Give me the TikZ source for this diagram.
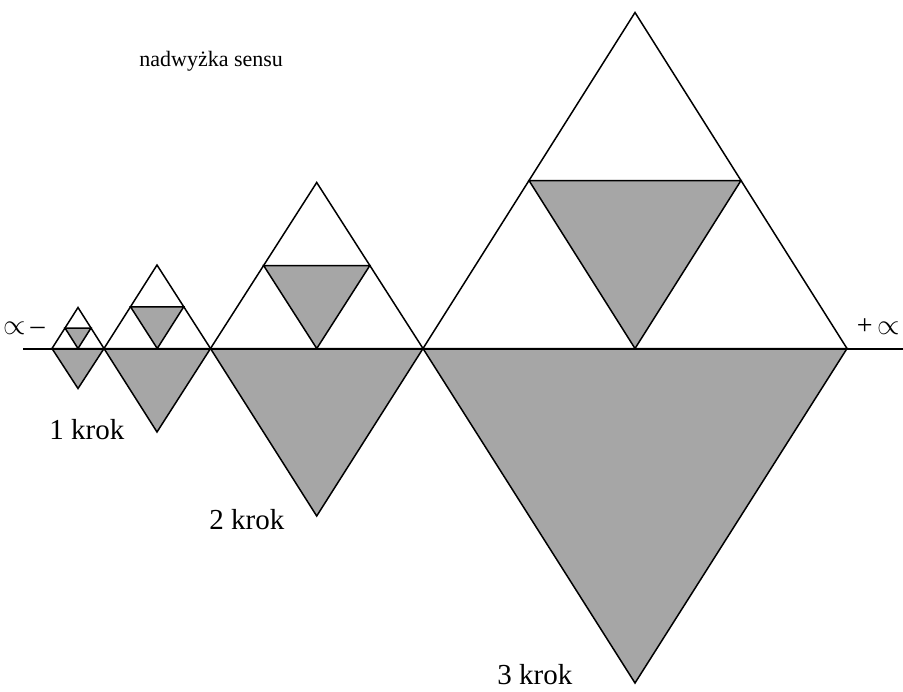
\documentclass[tikz,border=0pt]{standalone}
\usepackage{fontspec}
\setmainfont{Liberation Serif}
\usepackage{tikz}
\usetikzlibrary{calc}
\definecolor{StepGray}{HTML}{A6A6A6}

\begin{document}
\begin{tikzpicture}[
  x=0.5pt,
  y=-0.5pt,
  edge/.style={
    draw=black,
    line width=0.75pt,
    line join=miter
  },
  shaded/.style={
    edge,
    fill=StepGray
  },
  axis/.style={line width=1pt},
  steplabel/.style={
    anchor=base west,
    inner sep=0pt,
    font=\fontsize{14.5}{17}\selectfont
  },
  sign/.style={
    inner sep=0pt,
    font=\fontsize{14}{16}\selectfont
  },
]
\useasboundingbox (0,0) rectangle (903,691);

\coordinate (s1-l) at (52,348.5);
\coordinate (s1-r) at (104,348.5);
\coordinate (s1-t) at (78,307.5);
\coordinate (s1-b) at (78,388.5);

\coordinate (s2-l) at (104,348.5);
\coordinate (s2-r) at (210.5,348.5);
\coordinate (s2-t) at (157,265);
\coordinate (s2-b) at (157,432);

\coordinate (s3-l) at (210.5,348.5);
\coordinate (s3-r) at (423,348.5);
\coordinate (s3-t) at (316.7,182.5);
\coordinate (s3-b) at (316.7,516);

\coordinate (s4-l) at (423,348.5);
\coordinate (s4-r) at (847,348.5);
\coordinate (s4-t) at (635,12.5);
\coordinate (s4-b) at (635,683);

\draw[shaded] (s1-l) -- (s1-b) -- (s1-r) -- cycle;
\draw[edge] (s1-l) -- (s1-t) -- (s1-r);
\draw[shaded] ($(s1-l)!0.5!(s1-t)$) -- ($(s1-r)!0.5!(s1-t)$) -- ($(s1-l)!0.5!(s1-r)$) -- cycle;

\draw[shaded] (s2-l) -- (s2-b) -- (s2-r) -- cycle;
\draw[edge] (s2-l) -- (s2-t) -- (s2-r);
\draw[shaded] ($(s2-l)!0.5!(s2-t)$) -- ($(s2-r)!0.5!(s2-t)$) -- ($(s2-l)!0.5!(s2-r)$) -- cycle;

\draw[shaded] (s3-l) -- (s3-b) -- (s3-r) -- cycle;
\draw[edge] (s3-l) -- (s3-t) -- (s3-r);
\draw[shaded] ($(s3-l)!0.5!(s3-t)$) -- ($(s3-r)!0.5!(s3-t)$) -- ($(s3-l)!0.5!(s3-r)$) -- cycle;

\draw[shaded] (s4-l) -- (s4-b) -- (s4-r) -- cycle;
\draw[edge] (s4-l) -- (s4-t) -- (s4-r);
\draw[shaded] ($(s4-l)!0.5!(s4-t)$) -- ($(s4-r)!0.5!(s4-t)$) -- ($(s4-l)!0.5!(s4-r)$) -- cycle;

\coordinate (axis-l) at (23,348.5);
\coordinate (axis-r) at (903,348.5);
\draw[axis] (axis-l) -- (axis-r);

\node[sign] (minus-inf) at (24,328) {$\propto$\,--};
\node[sign,anchor=east] (plus-inf) at (900,327) {+\,$\propto$};

\node[steplabel,font=\fontsize{11}{13}\selectfont] (surplus) at (139,66.5) {nadwyżka sensu};
\node[steplabel] (step-one) at (49,439) {1 krok};
\node[steplabel] (step-two) at (209,529) {2 krok};
\node[steplabel] (step-three) at (497,684) {3 krok};
\end{tikzpicture}
\end{document}
